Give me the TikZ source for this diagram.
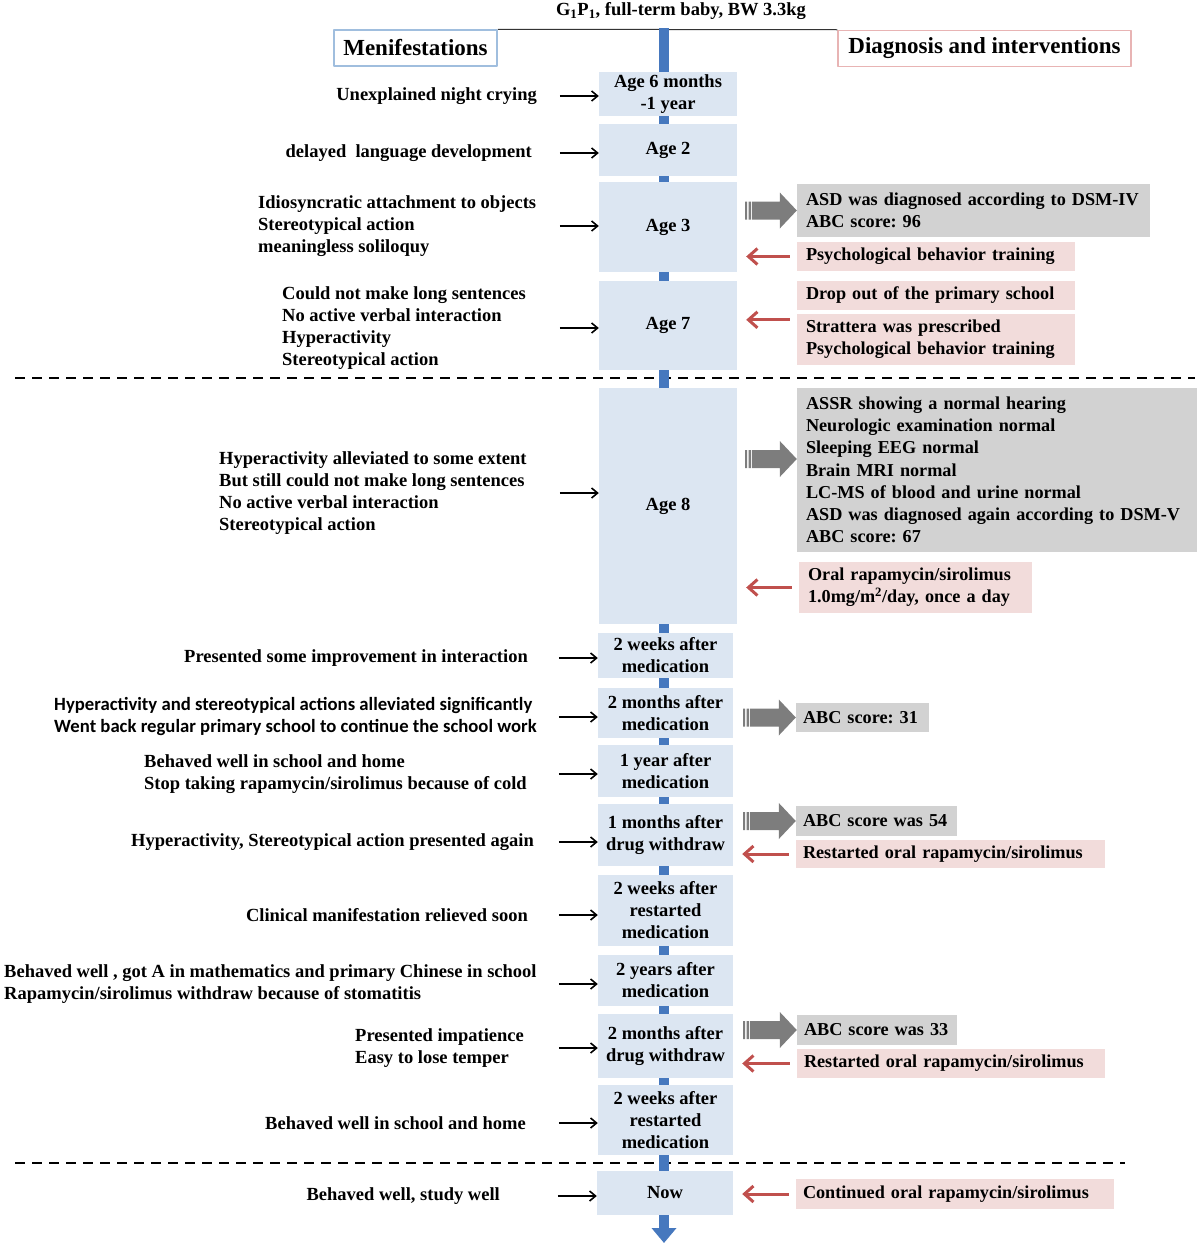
\documentclass[tikz,border=0pt]{standalone}
\usepackage{fontspec}
\setmainfont{Liberation Serif}
\newfontfamily\calfont{Carlito}
\usetikzlibrary{arrows.meta,calc}
\frenchspacing
\definecolor{agefill}{RGB}{220,230,242}
\definecolor{barblue}{RGB}{70,120,190}
\definecolor{dxgray}{RGB}{210,210,210}
\definecolor{dxred}{RGB}{242,220,219}
\definecolor{arrgray}{RGB}{125,125,125}
\definecolor{arrred}{RGB}{192,80,77}
\definecolor{headblue}{RGB}{160,190,222}
\definecolor{headred}{RGB}{232,180,180}
% gray striped block arrow: tail, tip
\newcommand{\blockarrow}[2]{%
  \fill[arrgray] let \p1=(#1), \p2=(#2) in
    (\x1,\y2-9) rectangle (\x1+2,\y2+9)
    (\x1+3.5,\y2-9) rectangle (\x1+6,\y2+9)
    (\x1+7,\y2-9) -- (\x2-17,\y2-9) -- (\x2-17,\y2-18) -- (\x2,\y2)
    -- (\x2-17,\y2+18) -- (\x2-17,\y2+9) -- (\x1+7,\y2+9) -- cycle;}
\begin{document}
\begin{tikzpicture}[x=1pt,y=-1pt, line join=round,
    txt/.style={inner sep=0pt, font=\fontsize{18.5}{22}\selectfont\bfseries},
    lft/.style={txt, anchor=west, align=left, yshift=-2pt},
    rgt/.style={txt, anchor=east, align=right, yshift=-2pt},
    agebox/.style={txt, fill=agefill, align=center},
    dxbox/.style={txt, fill=dxgray, align=left, inner xsep=9pt,
      font=\fontsize{18.2}{22.2}\selectfont\bfseries},
    rxbox/.style={dxbox, fill=dxred},
    head/.style={draw=#1, line width=1.5pt, fill=white, minimum height=36pt,
      inner sep=0pt, font=\fontsize{23}{26}\selectfont\bfseries},
    marrow/.style={line width=1.6pt, -{Straight Barb[length=6pt,width=10pt]}},
    redarr/.style={arrred, line width=3pt, -{Straight Barb[length=9pt,width=16pt]},
      shorten <=7pt, shorten >=9pt},
    sep/.style={line width=2.4pt, dash pattern=on 10pt off 7pt}]
\useasboundingbox (0,0) rectangle (1200,1245);

% header
\node[txt] (birth) at (681,11)
  {G\textsubscript{1}P\textsubscript{1}, full-term baby, BW 3.3kg};
\node[head=headblue, minimum width=163pt] (mhead) at (415.5,48) {Menifestations};
\node[head=headred, minimum width=293pt] (dhead) at (984.5,48.5) {Diagnosis and interventions};
\draw[line width=1pt, black!80] (mhead.north east) -- (dhead.north west);

% dashed separators
\coordinate (s1a) at (15,378);   \coordinate (s1b) at (1195,378);
\coordinate (s2a) at (15,1163);  \coordinate (s2b) at (1125,1163);
\draw[sep] (s1a) -- (s1b);
\draw[sep] (s2a) -- (s2b);

% time line
\coordinate (top) at (664,28);
\coordinate (bottom) at (664,1243);
\draw[barblue, line width=10pt, -{Triangle[length=15pt,width=24pt]}] (top) -- (bottom);

% ages
\node[agebox, minimum width=138pt, minimum height=44pt] (t1) at (668,94) {Age 6 months\\-1 year};
\node[agebox, minimum width=138pt, minimum height=52pt] (t2) at (668,150) {Age 2};
\node[agebox, minimum width=138pt, minimum height=90pt] (t3) at (668,227) {Age 3};
\node[agebox, minimum width=138pt, minimum height=89pt] (t4) at (668,325.5) {Age 7};
\node[agebox, minimum width=138pt, minimum height=236pt] (t5) at (668,506) {Age 8};
\node[agebox, minimum width=135pt, minimum height=45pt] (t6) at (665.5,655.5) {2 weeks after\\medication};
\node[agebox, minimum width=135pt, minimum height=50pt] (t7) at (665.5,713) {2 months after\\medication};
\node[agebox, minimum width=135pt, minimum height=52pt] (t8) at (665.5,771) {1 year after\\medication};
\node[agebox, minimum width=135pt, minimum height=62pt] (t9) at (665.5,835) {1 months after\\drug withdraw};
\node[agebox, minimum width=135pt, minimum height=71pt] (t10) at (665.5,910.5) {2 weeks after\\restarted\\medication};
\node[agebox, minimum width=135pt, minimum height=51pt] (t11) at (665.5,980.5) {2 years after\\medication};
\node[agebox, minimum width=135pt, minimum height=64pt] (t12) at (665.5,1046) {2 months after\\drug withdraw};
\node[agebox, minimum width=135pt, minimum height=70pt] (t13) at (665.5,1120) {2 weeks after\\restarted\\medication};
\node[agebox, minimum width=136pt, minimum height=44pt] (t14) at (665,1193) {Now};

% manifestations
\node[rgt] (m1) at (537,94) {Unexplained night crying};
\node[rgt] (m2) at (532,151) {delayed\ \ language development};
\node[lft] (m3) at (258,224) {Idiosyncratic attachment to objects\\Stereotypical action\\meaningless soliloquy};
\node[lft] (m4) at (282,326) {Could not make long sentences\\No active verbal interaction\\Hyperactivity\\Stereotypical action};
\node[lft] (m5) at (219,491) {Hyperactivity alleviated to some extent\\But still could not make long sentences\\No active verbal interaction\\Stereotypical action};
\node[rgt] (m6) at (528,656) {Presented some improvement in interaction};
\node[lft, font=\fontsize{18.7}{22}\calfont\bfseries] (m7) at (54,715)
  {Hyperactivity and stereotypical actions alleviated significantly\\Went back regular primary school to continue the school work};
\node[lft] (m8) at (144,772) {Behaved well in school and home\\Stop taking rapamycin/sirolimus because of cold};
\node[rgt] (m9) at (534,840) {Hyperactivity, Stereotypical action presented again};
\node[rgt] (m10) at (528,913) {Clinical manifestation relieved soon};
\node[lft] (m11) at (4,982) {Behaved well , got A in mathematics and primary Chinese in school\\Rapamycin/sirolimus withdraw because of stomatitis};
\node[lft] (m12) at (355,1046) {Presented impatience\\Easy to lose temper};
\node[rgt] (m13) at (526,1121) {Behaved well in school and home};
\node[rgt] (m14) at (500,1194) {Behaved well, study well};

\foreach \i in {1,...,14}
  \draw[marrow] ([xshift=-39pt]t\i.west |- m\i.east) -- (t\i.west |- m\i.east);

% diagnosis and interventions
\node[dxbox, minimum width=353pt, text width=335pt, minimum height=53pt] (g1) at (973.5,210.5)
  {ASD was diagnosed according to DSM-IV\\ABC score: 96};
\node[rxbox, minimum width=278pt, text width=260pt, minimum height=29pt] (r1) at (936,256.5)
  {Psychological behavior training};
\node[rxbox, minimum width=278pt, text width=260pt, minimum height=29pt] (r2) at (936,295.5)
  {Drop out of the primary school};
\node[rxbox, minimum width=278pt, text width=260pt, minimum height=51pt] (r3) at (936,339.5)
  {Strattera was prescribed\\Psychological behavior training};
\node[dxbox, minimum width=400pt, text width=382pt, minimum height=164pt] (g2) at (997,470)
  {ASSR showing a normal hearing\\Neurologic examination normal\\Sleeping EEG normal\\Brain MRI normal\\LC-MS of blood and urine normal\\ASD was diagnosed again according to DSM-V\\ABC score: 67};
\node[rxbox, minimum width=233pt, text width=215pt, minimum height=51pt] (r4) at (915.5,587.5)
  {Oral rapamycin/sirolimus\\1.0mg/m\textsuperscript{2}/day, once a day};
\node[dxbox, minimum width=133pt, text width=119pt, minimum height=29pt, inner xsep=7pt] (g3) at (862.5,717.5)
  {ABC score: 31};
\node[dxbox, minimum width=161pt, text width=147pt, minimum height=30pt, inner xsep=7pt] (g4) at (876.5,821)
  {ABC score was 54};
\node[rxbox, minimum width=309pt, text width=295pt, minimum height=28pt, inner xsep=7pt] (r5) at (950.5,854)
  {Restarted oral rapamycin/sirolimus};
\node[dxbox, minimum width=160pt, text width=146pt, minimum height=30pt, inner xsep=7pt] (g5) at (877,1030)
  {ABC score was 33};
\node[rxbox, minimum width=308pt, text width=294pt, minimum height=29pt, inner xsep=7pt] (r6) at (951,1063.5)
  {Restarted oral rapamycin/sirolimus};
\node[rxbox, minimum width=318pt, text width=304pt, minimum height=30pt, inner xsep=7pt] (r7) at (955,1194)
  {Continued oral rapamycin/sirolimus};

% gray arrows
\blockarrow{$(t3.east |- g1.west)+(8,0)$}{g1.west}
\blockarrow{$(t5.east |- g2.west)+(8,-11)$}{$(g2.west)+(0,-11)$}
\blockarrow{$(t7.east |- g3.west)+(10,0)$}{g3.west}
\blockarrow{$(t9.east |- g4.west)+(10,0)$}{g4.west}
\blockarrow{$(t12.east |- g5.west)+(10,0)$}{g5.west}

% red arrows
\coordinate (r23) at ($(r3.north west)+(0,6)$);
\draw[redarr] (r1.west) -- (r1.west -| t3.east);
\draw[redarr] (r23) -- (r23 -| t4.east);
\draw[redarr] (r4.west) -- (r4.west -| t5.east);
\draw[redarr] (r5.west) -- (r5.west -| t9.east);
\draw[redarr] (r6.west) -- (r6.west -| t12.east);
\draw[redarr] (r7.west) -- (r7.west -| t14.east);
\end{tikzpicture}
\end{document}
